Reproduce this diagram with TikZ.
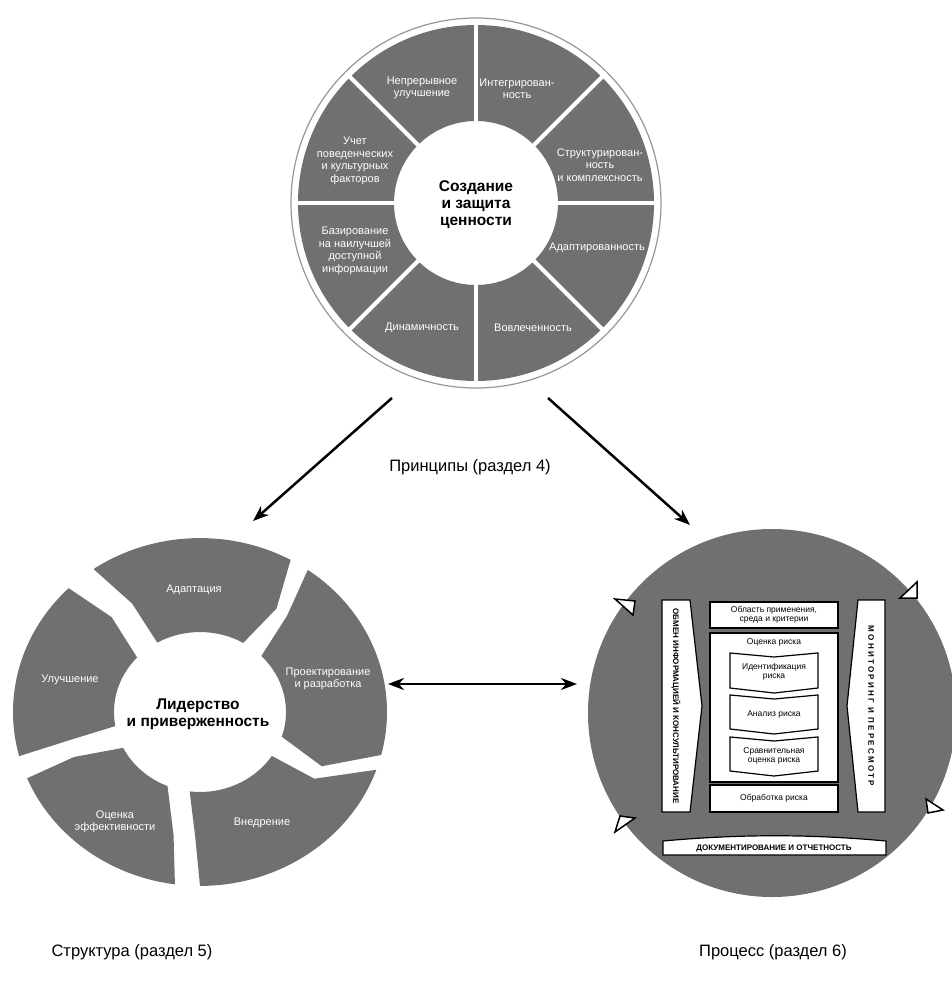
\documentclass[tikz,border=0pt]{standalone}
\usepackage{fontspec}
\setmainfont{Liberation Sans}
\newfontfamily\spacedfont[LetterSpace=28]{Liberation Sans}
\usetikzlibrary{arrows.meta}
\definecolor{segm}{RGB}{112,112,112}
\definecolor{ringgray}{RGB}{150,150,150}

\begin{document}
\begin{tikzpicture}[x=1pt,y=1pt,
  lbl/.style={text=white, font=\fontsize{11}{12.5}\selectfont, align=center, inner sep=0pt},
  ctr/.style={font=\bfseries\fontsize{15.5}{17}\selectfont, align=center, inner sep=0pt},
  captxt/.style={font=\fontsize{16.5}{20}\selectfont, inner sep=0pt},
  pbox/.style={draw=black, line width=1.2pt, fill=white},
  ptxt/.style={font=\fontsize{8.5}{9.5}\selectfont, align=center, inner sep=0pt},
  vtxt/.style={font=\bfseries\fontsize{8}{9}\selectfont, inner sep=0pt, rotate=-90},
  tri/.style={draw=black, line width=1.5pt, fill=white, line join=miter},
  bigarr/.style={line width=2.5pt, -{Stealth[length=16pt,width=12pt]}}]
\useasboundingbox (0,0) rectangle (951,-985);

% principles
\draw[ringgray, line width=1.2pt] (476,-203) circle[radius=185];
\fill[segm, even odd rule] (476,-203) circle[radius=178] (476,-203) circle[radius=82];
\foreach \a in {0,45,...,315}
  \draw[white, line width=4pt] (476,-203) ++(\a:79) -- ++(\a:103);
\node[lbl] (P1) at (422,-88) {Непрерывное\\улучшение};
\node[lbl] (P2) at (517,-89) {Интегрирован-\\ность};
\node[lbl] (P3) at (600,-165) {Структурирован-\\ность\\и комплексность};
\node[lbl] (P4) at (597,-248) {Адаптированность};
\node[lbl] (P5) at (533,-328) {Вовлеченность};
\node[lbl] (P6) at (422,-328) {Динамичность};
\node[lbl] (P7) at (355,-251) {Базирование\\на наилучшей\\доступной\\информации};
\node[lbl] (P8) at (355,-161) {Учет\\поведенческих\\и культурных\\факторов};
\node[ctr] (princ) at (476,-205) {Создание\\и защита\\ценности};

% framework
\begin{scope}[shift={(200,-712)}, yscale=0.93]
  \foreach \so/\sm/\si/\eo/\em/\ei in {194.7/193.1/190.1/134.6/130.9/137,
      124.7/120.2/119.8/61/55.5/59.8, 54.8/49.9/44.5/-14.3/-25.6/-18,
      -19.4/-32.1/-33.3/-90/-92/-96.9, -97.7/-101.3/-112.2/-157.6/-159/-153.4}
    \fill[segm] (\so:187) arc[start angle=\so, end angle=\eo, radius=187]
      -- (\em:135) -- (\ei:86) arc[start angle=\ei, end angle=\si, radius=86]
      -- (\sm:135) -- cycle;
\end{scope}
\node[lbl] (S1) at (194,-590) {Адаптация};
\node[lbl] (S2) at (328,-679) {Проектирование\\и разработка};
\node[lbl] (S3) at (262,-823) {Внедрение};
\node[lbl] (S4) at (115,-822) {Оценка\\эффективности};
\node[lbl] (S5) at (70,-680) {Улучшение};
\node[ctr] (lead) at (198,-714) {Лидерство\\и приверженность};

% process
\fill[segm] (772,-713) circle[radius=184];
\draw[pbox] (662,-600) -- (690,-600) -- (702,-706) -- (690,-812) -- (662,-812) -- cycle;
\draw[pbox] (858,-600) -- (885,-600) -- (885,-812) -- (858,-812) -- (847,-706) -- cycle;
\draw[pbox] (710,-602) rectangle (838,-628);
\draw[pbox] (710,-633) rectangle (838,-782);
\draw[pbox] (730,-653) -- (774,-657) -- (818,-653) -- (818,-688) -- (774,-693) -- (730,-688) -- cycle;
\draw[pbox] (730,-695) -- (774,-699) -- (818,-695) -- (818,-729) -- (774,-734) -- (730,-729) -- cycle;
\draw[pbox] (730,-737) -- (774,-741) -- (818,-737) -- (818,-771) -- (774,-776) -- (730,-771) -- cycle;
\draw[pbox] (710,-785) rectangle (838,-812);
\draw[pbox] (663,-855) -- (663,-841) .. controls (740,-834) and (810,-834) .. (886,-841) -- (886,-855) -- cycle;
\node[vtxt] (R1) at (676,-706) {ОБМЕН ИНФОРМАЦИЕЙ И КОНСУЛЬТИРОВАНИЕ};
\node[vtxt, font=\spacedfont\bfseries\fontsize{8}{9}\selectfont] (R2) at (871,-706) {МОНИТОРИНГ И ПЕРЕСМОТР};
\node[ptxt] (R3) at (774,-615) {Область применения,\\среда и критерии};
\node[ptxt] (R4) at (774,-642) {Оценка риска};
\node[ptxt] (R5) at (774,-672) {Идентификация\\риска};
\node[ptxt] (R6) at (774,-714) {Анализ риска};
\node[ptxt] (R7) at (774,-756) {Сравнительная\\оценка риска};
\node[ptxt] (R8) at (774,-798) {Обработка риска};
\node[ptxt, font=\bfseries\fontsize{8}{9}\selectfont] (R9) at (774,-848) {ДОКУМЕНТИРОВАНИЕ И ОТЧЕТНОСТЬ};
\draw[tri] (615,-599) -- (635,-601) -- (633,-615) -- cycle;
\draw[tri] (900,-598) -- (917,-582) -- (917,-598) -- cycle;
\draw[tri] (615,-832) -- (620,-816) -- (635,-818) -- cycle;
\draw[tri] (926,-799) -- (943,-810) -- (928,-813) -- cycle;

% links
\coordinate (princ-l) at (392,-398);
\coordinate (struct-t) at (253,-521);
\coordinate (princ-r) at (548,-398);
\coordinate (proc-t) at (690,-525);
\coordinate (struct-r) at (388,-684);
\coordinate (proc-l) at (577,-684);
\draw[bigarr] (princ-l) -- (struct-t);
\draw[bigarr] (princ-r) -- (proc-t);
\draw[bigarr, {Stealth[length=16pt,width=12pt]}-{Stealth[length=16pt,width=12pt]}] (struct-r) -- (proc-l);

\node[captxt] (C1) at (470,-467) {Принципы (раздел 4)};
\node[captxt] (C2) at (132,-952) {Структура (раздел 5)};
\node[captxt] (C3) at (773,-952) {Процесс (раздел 6)};
\end{tikzpicture}
\end{document}
